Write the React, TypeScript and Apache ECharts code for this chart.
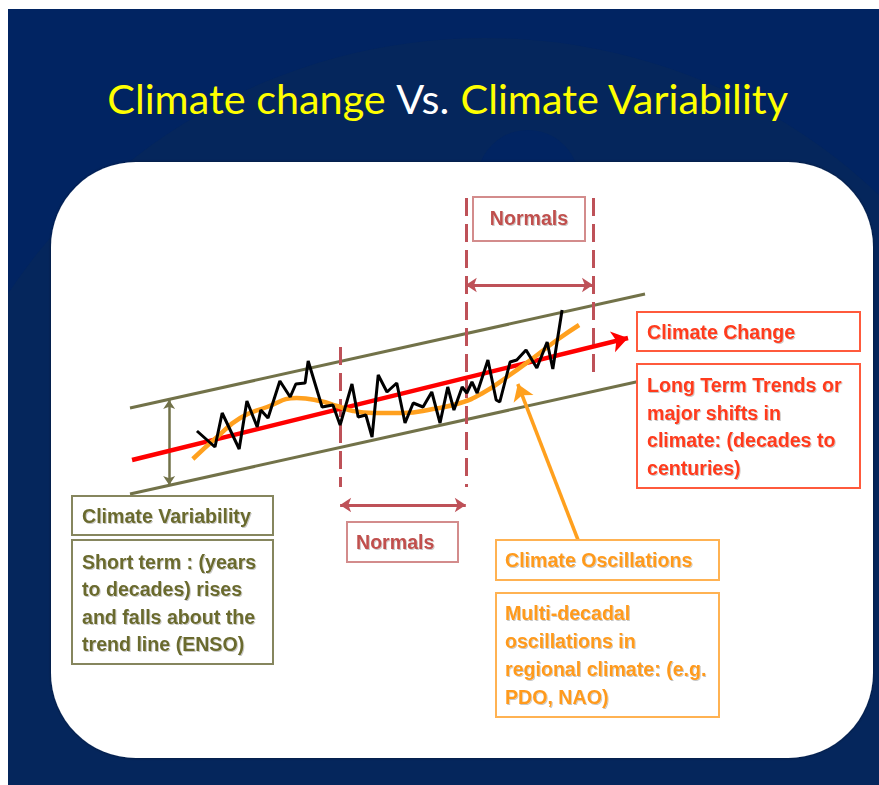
import React, { useEffect, useRef } from "react";
import * as echarts from "echarts";

// ---------- DATA ----------
// time (arbitrary years, 0..100) vs temperature anomaly
const variabilitySeries: [number, number][] = [
  [13.0, -0.71], [16.5, -0.87], [17.9, -0.53], [21.2, -0.89], [22.7, -0.41],
  [24.7, -0.67], [25.4, -0.50], [26.8, -0.58], [29.1, -0.21], [31.1, -0.37],
  [32.2, -0.24], [34.0, -0.23], [34.6, -0.01], [37.3, -0.47], [39.4, -0.45],
  [40.8, -0.65], [43.1, -0.24], [44.3, -0.57], [45.8, -0.55], [47.0, -0.77],
  [48.2, -0.15], [49.9, -0.32], [51.8, -0.23], [53.4, -0.63], [55.0, -0.43],
  [56.9, -0.47], [58.6, -0.32], [60.2, -0.63], [61.7, -0.27], [62.9, -0.50],
  [64.5, -0.27], [65.4, -0.33], [66.4, -0.22], [67.4, -0.33], [69.5, 0.0],
  [71.1, -0.40], [71.8, -0.42], [73.8, -0.02], [75.1, 0.0], [76.9, 0.10],
  [79.0, -0.08], [81.0, 0.18], [82.1, -0.09], [83.9, 0.50],
];
const oscillationSeries: [number, number][] = [
  [12.2, -0.99], [16.9, -0.77], [21.4, -0.58], [26.6, -0.47], [32.4, -0.38],
  [36.9, -0.41], [40.2, -0.46], [43.3, -0.51], [47.2, -0.53], [53.0, -0.53],
  [58.8, -0.49], [64.1, -0.43], [68.5, -0.33], [73.2, -0.17], [78.3, 0.02],
  [82.9, 0.20], [87.2, 0.35],
];
const trendLine: [number, number][] = [[0.4, -1.0], [96.7, 0.22]];
const upperEnvelope: [number, number][] = [[0, -0.48], [100, 0.66]];
const lowerEnvelope: [number, number][] = [[0, -1.34], [100, -0.2]];
const variabilityRange: [number, number][] = [[7.6, -0.40], [7.6, -1.25]];
const normalsBoundaries = [40.8, 65.2, 89.9];
const normalsBoundaryTop = [0.13, 1.62, 1.62];
const normalsBoundaryBottom = [-1.27, -1.27, -0.12];
const normalsPeriodStart = [65.2, 40.8];
const normalsPeriodEnd = [89.9, 65.2];
const normalsPeriodLevel = [0.75, -1.45];
const oscillationPointer: [number, number][] = [[87.0, -1.80], [75.3, -0.24]];

// ---------- TEXT ----------
const titleParts = ["Climate change ", "Vs.", " Climate Variability"];
const normalsLabel = "Normals";
const variabilityTitle = "Climate Variability";
const variabilityNote = ["Short term : (years", "to decades) rises", "and falls about the", "trend line (ENSO)"];
const changeTitle = "Climate Change";
const changeNote = ["Long Term Trends or", "major shifts in", "climate: (decades to", "centuries)"];
const oscillationTitle = "Climate Oscillations";
const oscillationNote = ["Multi-decadal", "oscillations in", "regional climate: (e.g.", "PDO, NAO)"];

const OLIVE = "#727249";
const OLIVE_TEXT = "#6B6B2F";
const DASH = "#BE5158";
const RED = "#FF0000";
const RED_TEXT = "#FF3B1E";
const ORANGE = "#FFA01E";
const ORANGE_TEXT = "#FF9A1C";
const FONT = "Liberation Sans";

function box(x: number, y: number, w: number, h: number, stroke: string, lw = 2) {
  return {
    type: "rect",
    z: 10,
    shape: { x, y, width: w, height: h },
    style: { fill: "#ffffff", stroke, lineWidth: lw },
  };
}
function label(x: number, y: number, text: string, fill: string, opts: any = {}) {
  return {
    type: "text",
    z: 11,
    x,
    y,
    style: {
      text,
      fill,
      fontFamily: FONT,
      fontWeight: "bold",
      fontSize: 19.6,
      lineHeight: opts.lineHeight || 28,
      align: opts.align || "left",
      verticalAlign: opts.verticalAlign || "middle",
      textShadowColor: "rgba(0,0,0,0.22)",
      textShadowOffsetX: 1,
      textShadowOffsetY: 1,
      textShadowBlur: 1,
    },
  };
}

export default function App() {
  const ref = useRef<HTMLDivElement>(null);
  useEffect(() => {
    if (!ref.current) return;
    const chart = echarts.init(ref.current, undefined, { renderer: "svg" });

    const seg = (a: [number, number], b: [number, number]) => ({ coords: [a, b] });

    const dividers = normalsBoundaries.map((t, i) =>
      seg([t, normalsBoundaryTop[i]], [t, normalsBoundaryBottom[i]])
    );
    const periods = normalsPeriodStart.map((s, i) =>
      seg([s, normalsPeriodLevel[i]], [normalsPeriodEnd[i], normalsPeriodLevel[i]])
    );

    const option: any = {
      animation: false,
      grid: { left: 130, top: 160, width: 515, height: 400 },
      xAxis: { type: "value", min: 0, max: 100, show: false },
      yAxis: { type: "value", min: -2, max: 2, show: false },
      graphic: {
        elements: [
          { type: "rect", z: 0, shape: { x: 8, y: 9, width: 871, height: 776 }, style: { fill: "#012462" } },
          { type: "circle", z: 0, shape: { cx: 485, cy: 611, r: 573 }, style: { fill: "#05265C" } },
          { type: "circle", z: 0, shape: { cx: 528, cy: 181, r: 51 }, style: { fill: "#012462" } },
          { type: "rect", z: 0, shape: { x: 0, y: 0, width: 879, height: 9 }, style: { fill: "#ffffff" } },
          { type: "rect", z: 0, shape: { x: 0, y: 0, width: 8, height: 785 }, style: { fill: "#ffffff" } },
          {
            type: "rect",
            z: 1,
            shape: { x: 51, y: 162, width: 822, height: 596, r: 85 },
            style: { fill: "#ffffff", shadowBlur: 3, shadowColor: "rgba(0,0,0,0.45)" },
          },
          {
            type: "text",
            z: 5,
            x: 448,
            y: 98,
            style: {
              text: `{y|${titleParts[0]}}{w|${titleParts[1]}}{y|${titleParts[2]}}`,
              align: "center",
              verticalAlign: "middle",
              rich: {
                y: { fill: "#FFFF00", fontFamily: "Lato", fontSize: 41.4 },
                w: { fill: "#FFFFFF", fontFamily: "Lato", fontSize: 41.4 },
              },
            },
          },
          // Normals (top)
          box(473, 197, 112, 44, "#D38C8C"),
          label(529, 218, normalsLabel, "#C0504D", { align: "center" }),
          // Normals (bottom)
          box(347, 522, 111, 40, "#D38C8C"),
          label(356, 542, normalsLabel, "#C0504D"),
          // Climate variability
          box(72, 496, 201, 39, "#86865E"),
          label(82, 515.5, variabilityTitle, OLIVE_TEXT),
          box(72, 540, 201, 124, "#86865E"),
          label(82, 548, variabilityNote.join("\n"), OLIVE_TEXT, { verticalAlign: "top", lineHeight: 27.5 }),
          // Climate change
          box(637, 312, 223, 39, "#FF5A3C"),
          label(647, 331.5, changeTitle, RED_TEXT),
          box(637, 364, 223, 124, "#FF5A3C"),
          label(647, 371, changeNote.join("\n"), RED_TEXT, { verticalAlign: "top", lineHeight: 27.7 }),
          // Climate oscillations
          box(496, 540, 223, 40, "#FFB252"),
          label(505, 560, oscillationTitle, ORANGE_TEXT),
          box(496, 593, 223, 124, "#FFB252"),
          label(505, 599, oscillationNote.join("\n"), ORANGE_TEXT, { verticalAlign: "top", lineHeight: 28 }),
        ],
      },
      series: [
        {
          type: "lines",
          coordinateSystem: "cartesian2d",
          z: 2,
          silent: true,
          symbol: "none",
          lineStyle: { color: OLIVE, width: 3, opacity: 1 },
          data: [seg(upperEnvelope[0], upperEnvelope[1]), seg(lowerEnvelope[0], lowerEnvelope[1])],
        },
        {
          type: "lines",
          coordinateSystem: "cartesian2d",
          z: 2,
          silent: true,
          symbol: ["arrow", "arrow"],
          symbolSize: 9,
          lineStyle: { color: OLIVE, width: 2.5, opacity: 1 },
          data: [seg(variabilityRange[0], variabilityRange[1])],
        },
        {
          type: "lines",
          coordinateSystem: "cartesian2d",
          z: 2,
          silent: true,
          symbol: "none",
          lineStyle: { color: DASH, width: 3, opacity: 1, type: [18, 8] },
          data: dividers,
        },
        {
          type: "lines",
          coordinateSystem: "cartesian2d",
          z: 2,
          silent: true,
          symbol: ["arrow", "arrow"],
          symbolSize: 11,
          lineStyle: { color: DASH, width: 3, opacity: 1 },
          data: periods,
        },
        {
          type: "lines",
          coordinateSystem: "cartesian2d",
          z: 3,
          silent: true,
          symbol: ["none", "arrow"],
          symbolSize: 16,
          lineStyle: { color: RED, width: 4.5, opacity: 1 },
          data: [seg(trendLine[0], trendLine[1])],
        },
        {
          type: "line",
          z: 4,
          silent: true,
          smooth: 0.5,
          symbol: "none",
          lineStyle: { color: ORANGE, width: 4.5 },
          data: oscillationSeries,
        },
        {
          type: "line",
          z: 5,
          silent: true,
          symbol: "none",
          lineStyle: { color: "#000000", width: 3 },
          data: variabilitySeries,
        },
        {
          type: "lines",
          coordinateSystem: "cartesian2d",
          z: 6,
          silent: true,
          symbol: ["none", "arrow"],
          symbolSize: 16,
          lineStyle: { color: ORANGE, width: 3.5, opacity: 1 },
          data: [seg(oscillationPointer[0], oscillationPointer[1])],
        },
      ],
    };
    chart.setOption(option);
    return () => chart.dispose();
  }, []);
  return (
    <div
      ref={ref}
      style={{ position: "absolute", left: 0, top: 0, width: 879, height: 785, background: "#ffffff" }}
    />
  );
}
